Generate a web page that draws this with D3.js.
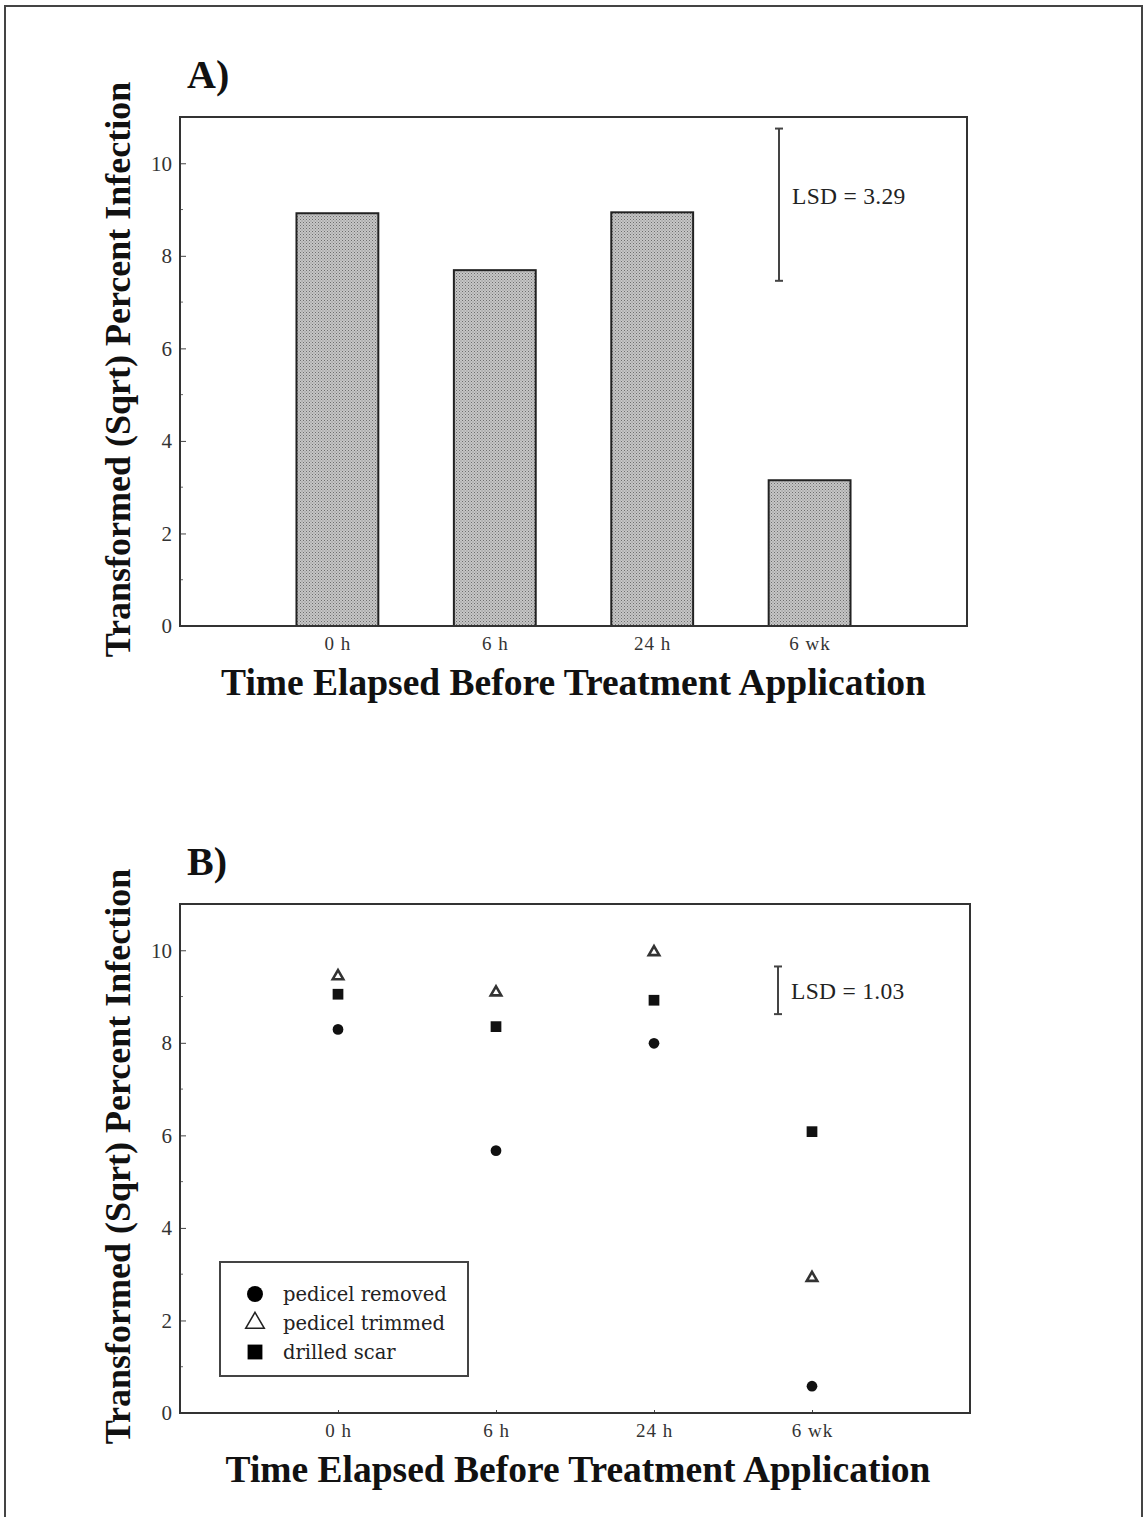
<!DOCTYPE html>
<html>
<head>
<meta charset="utf-8">
<script src="https://cdn.jsdelivr.net/npm/d3@7"></script>
<style>
  body { margin: 0; background: #fff; }
  svg { font-family: "Liberation Serif", "Times New Roman", serif; }
</style>
</head>
<body>
<script>
// data
var categories = ["0 h", "6 h", "24 h", "6 wk"];
var barValues = [8.92, 7.69, 8.94, 3.15];          // panel A
var removedValues = [8.29, 5.67, 7.99, 0.58];      // panel B, pedicel removed
var trimmedValues = [9.44, 9.09, 9.96, 2.92];      // panel B, pedicel trimmed
var drilledValues = [9.05, 8.35, 8.92, 6.08];      // panel B, drilled scar
var yTicks = [0, 2, 4, 6, 8, 10];
var yMinorTicks = [1, 3, 5, 7, 9];
var lsdLabels = ["LSD = 3.29", "LSD = 1.03"];
var lsdValues = [3.29, 1.03];
var lsdTops = [10.75, 9.65];
var seriesNames = ["pedicel removed", "pedicel trimmed", "drilled scar"];

var svg = d3.select("body").append("svg")
            .attr("width", 1145)
            .attr("height", 1517);

// stippled grey fill for the bars
var pat = svg.append("defs").append("pattern")
             .attr("id", "stipple")
             .attr("width", 3).attr("height", 3)
             .attr("patternUnits", "userSpaceOnUse");
pat.append("rect").attr("width", 3).attr("height", 3).attr("fill", "#c6c6c6");
pat.append("rect").attr("x", 0).attr("y", 0).attr("width", 1).attr("height", 1).attr("fill", "#6e6e6e");
pat.append("rect").attr("x", 1.5).attr("y", 1.5).attr("width", 1).attr("height", 1).attr("fill", "#858585");

// page border
svg.append("path")
   .attr("d", "M5,1517 V6 H1142 V1517")
   .attr("fill", "none")
   .attr("stroke", "#444")
   .attr("stroke-width", 2);

function drawPanel(opts) {
  var w = opts.width, h = opts.height;
  var g = svg.append("g").attr("transform", "translate(" + opts.left + "," + opts.top + ")");

  var x = d3.scalePoint().domain(categories).range([0, w]).padding(1);
  var y = d3.scaleLinear().domain([0, 11]).range([h, 0]);

  // y axis, ticks pointing inwards
  var yAxis = g.append("g")
     .call(d3.axisLeft(y).tickValues(yTicks).tickSize(-6).tickPadding(8).tickFormat(d3.format("d")));
  yAxis.select(".domain").remove();
  yAxis.attr("font-family", null);
  yAxis.selectAll("text").attr("font-size", 21).attr("fill", "#333");
  yAxis.selectAll("line").attr("stroke", "#444");
  g.selectAll(".minor").data(yMinorTicks).enter().append("line")
     .attr("x1", 0).attr("x2", 3)
     .attr("y1", function (d) { return y(d); })
     .attr("y2", function (d) { return y(d); })
     .attr("stroke", "#666");

  var xAxis = g.append("g").attr("transform", "translate(0," + h + ")")
     .call(d3.axisBottom(x).tickSize(-3).tickPadding(11));
  xAxis.select(".domain").remove();
  xAxis.attr("font-family", null);
  xAxis.selectAll("text").attr("font-size", 19).attr("fill", "#333").attr("letter-spacing", 1);
  xAxis.selectAll("line").attr("stroke", "#444");

  opts.drawMarks(g, x, y);

  // frame
  g.append("rect").attr("width", w).attr("height", h)
     .attr("fill", "none").attr("stroke", "#333").attr("stroke-width", 2);

  // LSD bar
  var lx = opts.lsdX;
  var top = y(lsdTops[opts.idx]), bot = y(lsdTops[opts.idx] - lsdValues[opts.idx]);
  g.append("line").attr("x1", lx).attr("x2", lx).attr("y1", top).attr("y2", bot)
     .attr("stroke", "#444").attr("stroke-width", 2);
  [top, bot].forEach(function (yy) {
    g.append("line").attr("x1", lx - 4).attr("x2", lx + 4).attr("y1", yy).attr("y2", yy)
       .attr("stroke", "#444").attr("stroke-width", 2);
  });
  g.append("text").attr("x", lx + 13).attr("y", (top + bot) / 2 + opts.lsdTextDy)
     .attr("font-size", 23.5).attr("fill", "#222").attr("letter-spacing", 0.3)
     .text(lsdLabels[opts.idx]);

  // panel letter
  g.append("text").attr("x", 7).attr("y", -29)
     .attr("font-size", 40).attr("font-weight", "bold").attr("fill", "#111").text(opts.letter);

  // axis titles
  g.append("text")
     .attr("transform", "translate(-50," + (h / 2 - 2) + ") rotate(-90)")
     .attr("text-anchor", "middle")
     .attr("font-size", 36).attr("font-weight", "bold").attr("fill", "#111")
     .text("Transformed (Sqrt) Percent Infection");
  g.append("text")
     .attr("x", w / 2 + opts.xTitleDx).attr("y", h + 69)
     .attr("text-anchor", "middle")
     .attr("font-size", 37.5).attr("font-weight", "bold").attr("fill", "#111")
     .text("Time Elapsed Before Treatment Application");
}

// panel A: bars
drawPanel({
  idx: 0, letter: "A)", left: 180, top: 117, width: 787, height: 509,
  lsdX: 599, lsdTextDy: -1, xTitleDx: 0,
  drawMarks: function (g, x, y) {
    var bw = x.step() * 0.52;
    g.selectAll(".bar").data(barValues).enter().append("rect")
       .attr("x", function (d, i) { return x(categories[i]) - bw / 2; })
       .attr("y", function (d) { return y(d); })
       .attr("width", bw)
       .attr("height", function (d) { return y(0) - y(d); })
       .attr("fill", "url(#stipple)")
       .attr("stroke", "#222").attr("stroke-width", 2);
  }
});

var symbols = [d3.symbolCircle, d3.symbolTriangle, d3.symbolSquare];
var symbolSizes = [90, 48, 115];

function styleSymbol(sel, k) {
  if (k === 1) {
    sel.attr("fill", "#fff").attr("stroke", "#333").attr("stroke-width", 2.6);
  } else {
    sel.attr("fill", "#111");
  }
}

// panel B: points
drawPanel({
  idx: 1, letter: "B)", left: 180, top: 904, width: 790, height: 509,
  lsdX: 598, lsdTextDy: 9, xTitleDx: 3,
  drawMarks: function (g, x, y) {
    var series = [removedValues, trimmedValues, drilledValues];
    series.forEach(function (vals, k) {
      var pts = g.selectAll(".s" + k).data(vals).enter().append("path")
         .attr("d", d3.symbol().type(symbols[k]).size(symbolSizes[k]))
         .attr("transform", function (d, i) {
           return "translate(" + x(categories[i]) + "," + y(d) + ")";
         });
      styleSymbol(pts, k);
    });

    // legend
    var lg = g.append("g").attr("transform", "translate(40,358)");
    lg.append("rect").attr("width", 248).attr("height", 114)
       .attr("fill", "#fff").attr("stroke", "#444").attr("stroke-width", 2);
    seriesNames.forEach(function (name, k) {
      var yy = 32 + k * 29;
      var sz = [200, 150, 220][k];
      var s = lg.append("path")
         .attr("d", d3.symbol().type(symbols[k]).size(sz))
         .attr("transform", "translate(35," + yy + ")");
      if (k === 1) {
        s.attr("fill", "#fff").attr("stroke", "#222").attr("stroke-width", 1.5);
      } else {
        s.attr("fill", "#000");
      }
      lg.append("text").attr("x", 63).attr("y", yy + 7)
         .attr("font-size", 19.5)
         .style("font-family", "'DejaVu Serif', serif")
         .attr("fill", "#222").text(name);
    });
  }
});
</script>
</body>
</html>
